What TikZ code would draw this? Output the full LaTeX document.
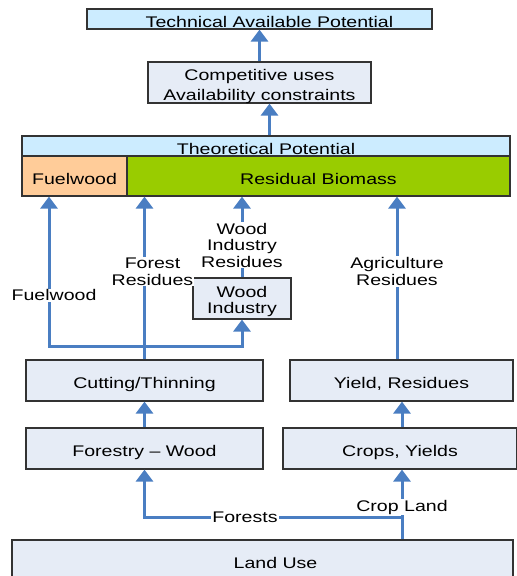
\documentclass[tikz,border=0pt]{standalone}
\usepackage{fontspec}
\setmainfont{Liberation Sans}[FakeStretch=1.27]
\usepackage{tikz}
\usetikzlibrary{arrows.meta}
\definecolor{flowblue}{RGB}{74,126,194}
\definecolor{paleblue}{RGB}{204,236,255}
\definecolor{greyblue}{RGB}{230,236,246}
\definecolor{peach}{RGB}{255,204,153}
\definecolor{leafgreen}{RGB}{153,204,0}
\definecolor{edge}{RGB}{51,51,51}

\begin{document}
\begin{tikzpicture}[x=1pt, y=-1pt,
    font=\fontsize{15.4}{17}\selectfont,
    box/.style={draw=edge, line width=1.2pt, fill=greyblue, inner sep=0pt, text height=16pt, text depth=0pt},
    multibox/.style={draw=edge, line width=1.2pt, fill=greyblue, inner sep=0pt},
    boxtext/.style={align=center, inner sep=0pt, yshift=#1},
    flow/.style={draw=flowblue, line width=3pt, -{Triangle[width=17pt,length=12pt]}},
    lab/.style={fill=white, inner sep=1pt, align=center, text=black}]

    \useasboundingbox (0,0) rectangle (517,576);

    % Potentials
    \node[box, fill=paleblue, minimum width=345pt, minimum height=20pt] (tap) at (259.5,19) {\hspace*{20pt}Technical Available Potential};
    \node[multibox, minimum width=223pt, minimum height=41pt,
          label={[boxtext=-4.5pt, font=\fontsize{15.4}{20}\selectfont]center:Competitive uses\\Availability constraints}] (comp) at (259.5,82.5) {};
    \node[box, fill=paleblue, minimum width=488pt, minimum height=20pt] (theo) at (266,146) {Theoretical Potential};
    \node[box, fill=peach, minimum width=105pt, minimum height=40pt] (fuel) at (74.5,176) {Fuelwood};
    \node[box, fill=leafgreen, minimum width=383pt, minimum height=40pt] (resid) at (318.5,176) {Residual Biomass};

    % Forest and crop chain
    \node[multibox, minimum width=98pt, minimum height=41pt,
          label={[boxtext=-3pt, font=\fontsize{15.4}{16}\selectfont]center:Wood\\Industry}] (wind) at (242,298.5) {};
    \node[box, minimum width=237pt, minimum height=41pt] (cut) at (144.5,380.5) {Cutting/Thinning};
    \node[box, minimum width=223pt, minimum height=41pt] (yres) at (401.5,380.5) {Yield, Residues};
    \node[box, minimum width=237pt, minimum height=41pt] (forw) at (144.5,448.5) {Forestry -- Wood};
    \node[box, minimum width=234pt, minimum height=41pt] (crops) at (400,448.5) {Crops, Yields};
    \node[box, minimum width=501pt, minimum height=40pt] (land) at (262.5,560) {\hspace*{26pt}Land Use};

    % Branch points
    \coordinate (split) at (402,517);
    \coordinate (fork) at (144,346);
    \coordinate (fwleft) at (49,346);

    % Land use
    \draw[flow] (land.north -| split) -- (split) -- node[lab, pos=0.61] {Forests} (split -| forw) -- (forw.south);
    \draw[flow] (split) -- node[lab, pos=0.21] {Crop Land} (crops.south -| split);
    \draw[flow] (forw.north) -- (cut.south);
    \draw[flow] (crops.north -| split) -- (yres.south -| split);

    % Residues and fuelwood
    \draw[flow] ([xshift=-4.5pt]yres.north) -- node[lab, pos=0.54] {Agriculture\\Residues} ([xshift=-4.5pt]yres.north |- resid.south);
    \draw[flow] (cut.north) -- node[lab, pos=0.54, xshift=8pt] {Forest\\Residues} (cut.north |- resid.south);
    \draw[flow] (fork) -- (fwleft) -- node[lab, pos=0.34, xshift=5pt] {Fuelwood} (fwleft |- fuel.south);
    \draw[flow] (fork) -- (fork -| wind) -- (wind.south);
    \draw[flow] (wind.north) -- node[lab, pos=0.4, font=\fontsize{15.4}{16.5}\selectfont] {Wood\\Industry\\Residues} (wind.north |- resid.south);

    % Up to the top
    \draw[flow] ([xshift=3.5pt]theo.north) -- ([xshift=3.5pt]theo.north |- comp.south);
    \draw[flow] (comp.north) -- (tap.south);

\end{tikzpicture}
\end{document}
